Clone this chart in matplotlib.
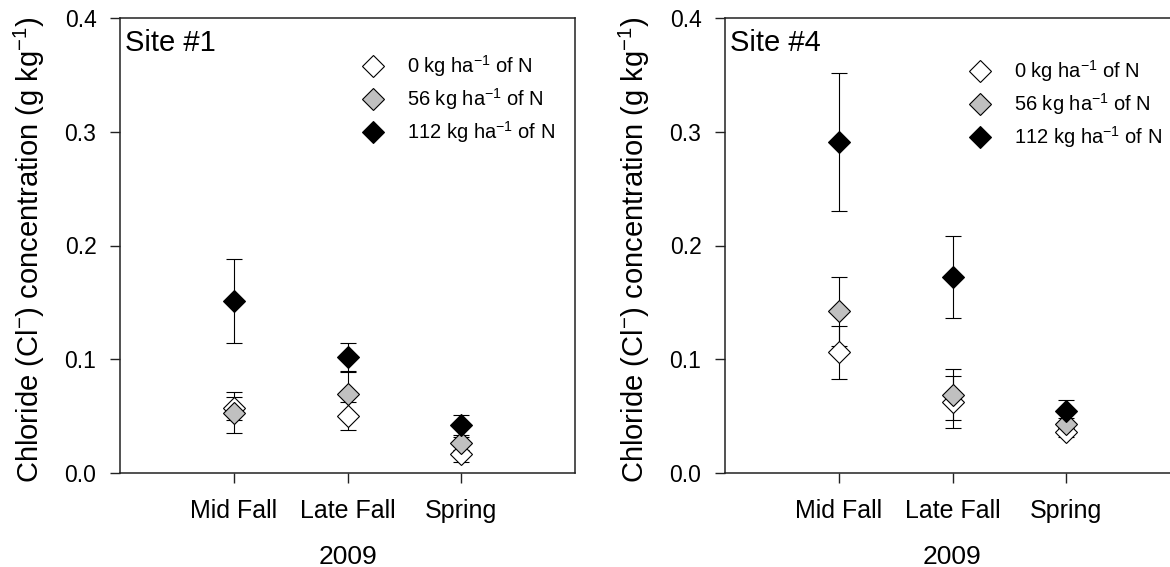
"""Chloride concentration by sampling time and N rate, sites #1 and #4 (2009)."""

import matplotlib
matplotlib.use("Agg")
import matplotlib.pyplot as plt
from matplotlib.lines import Line2D

plt.rcParams["font.family"] = ["Liberation Sans", "DejaVu Sans"]
plt.rcParams["mathtext.fontset"] = "custom"
plt.rcParams["mathtext.rm"] = "Liberation Sans"
plt.rcParams["mathtext.it"] = "Liberation Sans"
plt.rcParams["mathtext.bf"] = "Liberation Sans"

# sampling times (x positions 1..3)
periods = ["Mid Fall", "Late Fall", "Spring"]
x_pos = [1, 2, 3]

rates = ["0", "56", "112"]
fills = ["white", "#c0c0c0", "black"]

# Site #1 means and error bars (g kg-1)
site1_n0 = [0.057, 0.050, 0.017]
site1_n0_err = [0.010, 0.0125, 0.007]
site1_n56 = [0.053, 0.0695, 0.026]
site1_n56_err = [0.018, 0.019, 0.006]
site1_n112 = [0.151, 0.102, 0.042]
site1_n112_err = [0.037, 0.012, 0.009]

# Site #4 means and error bars (g kg-1)
site4_n0 = [0.106, 0.0625, 0.036]
site4_n0_err = [0.023, 0.023, 0.004]
site4_n56 = [0.142, 0.069, 0.043]
site4_n56_err = [0.030, 0.022, 0.005]
site4_n112 = [0.291, 0.172, 0.0545]
site4_n112_err = [0.061, 0.036, 0.010]

sites = [
    ("Site #1", [site1_n0, site1_n56, site1_n112], [site1_n0_err, site1_n56_err, site1_n112_err]),
    ("Site #4", [site4_n0, site4_n56, site4_n112], [site4_n0_err, site4_n56_err, site4_n112_err]),
]
legend_anchor = [(0.5344, 0.922), (0.5388, 0.911)]

W, H = 1170, 567
fig = plt.figure(figsize=(W / 100, H / 100), dpi=100)
ax_left = fig.add_axes([120 / W, (H - 473) / H, 455 / W, 455 / H])
ax_right = fig.add_axes([725 / W, (H - 473) / H, 455 / W, 455 / H])

for ax, (title, means, errs), anchor in zip([ax_left, ax_right], sites, legend_anchor):
    for vals, err, fc in zip(means, errs, fills):
        ax.errorbar(x_pos, vals, yerr=err, fmt="D", ms=11, mfc=fc, mec="black", mew=0.8,
                    ecolor="black", elinewidth=0.8, capsize=6, capthick=0.8)

    ax.set_xlim(0, 4)
    ax.set_ylim(0, 0.4)
    ax.set_yticks([0.0, 0.1, 0.2, 0.3, 0.4])
    ax.set_yticklabels(["0.0", "0.1", "0.2", "0.3", "0.4"])
    ax.set_xticks(x_pos)
    ax.set_xticklabels(periods)
    ax.tick_params(direction="out", length=7, width=1, color="#222222")
    ax.tick_params(axis="y", pad=10, labelsize=16.5)
    ax.tick_params(axis="x", pad=12, labelsize=18)
    for sp in ax.spines.values():
        sp.set_linewidth(1.1)
        sp.set_color("#222222")
    ax.set_xlabel("2009", fontsize=19, va="top")
    ax.xaxis.set_label_coords(0.5, -0.158)
    ax.set_ylabel("Chloride (Cl$^{-}$) concentration (g kg$^{-1}$)", fontsize=21)
    ax.yaxis.set_label_coords(-0.160, 0.491)
    ax.text(0.011, 0.976, title, transform=ax.transAxes, fontsize=21, va="top", ha="left")

    handles = [
        Line2D([], [], ls="none", marker="D", ms=11, mfc=fc, mec="black", mew=0.8,
               label=f"{r} kg ha$^{{-1}}$ of N")
        for r, fc in zip(rates, fills)
    ]
    ax.legend(handles=handles, loc="upper left", bbox_to_anchor=anchor, frameon=False,
              fontsize=14.5, handlelength=1.0, handletextpad=1.2, labelspacing=0.35,
              borderpad=0, borderaxespad=0)

fig.savefig("out.png", dpi=100)
